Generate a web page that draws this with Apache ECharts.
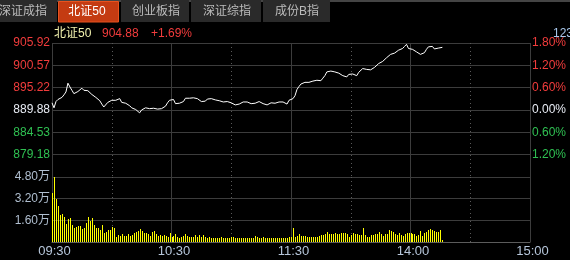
<!DOCTYPE html>
<html><head><meta charset="utf-8">
<script src="https://cdn.jsdelivr.net/npm/echarts@6/dist/echarts.min.js"></script>
<style>html,body{margin:0;padding:0;background:#000;overflow:hidden;}#c{width:570px;height:260px;}</style>
</head><body><div id="c"></div>
<script>
const baseClose = 889.88;
const tabNames = ['深证成指','北证50','创业板指','深证综指','成份B指'];
const indexName = '北证50';
const lastPrice = '904.88';
const lastChange = '+1.69%';
const cornerText = '1234';
const priceTicks = ['905.92','900.57','895.22','889.88','884.53','879.18'];
const pctTicks = ['1.80%','1.20%','0.60%','0.00%','0.60%','1.20%'];
const volTicks = ['4.80万','3.20万','1.60万'];
const timeTicks = ['09:30','10:30','11:30','14:00','15:00'];

const prices = [
891.6,890.4,891.9,892.4,892.7,892.9,893.5,894.2,896.3,895.4,
894.6,893.8,894.0,894.3,894.7,895.1,894.6,894.3,894.5,894.1,
893.6,893.3,892.9,892.5,892.1,891.3,890.6,890.6,891.7,892.1,
892.2,892.1,892.2,892.3,892.6,891.7,891.6,891.5,891.3,890.9,
890.4,890.1,890.0,889.6,889.2,889.9,890.3,890.4,890.3,890.2,
890.2,890.3,890.2,890.1,890.0,890.2,890.3,890.8,891.6,892.2,
892.5,892.4,891.4,891.5,891.5,891.8,891.9,892.7,892.6,892.7,
892.7,892.8,892.6,892.6,892.3,891.9,891.7,892.0,892.5,892.9,
892.6,892.4,892.3,892.2,892.1,892.0,891.8,891.9,891.9,891.7,
891.6,891.3,891.1,891.1,891.3,891.6,891.8,891.8,891.8,891.7,
891.4,891.1,891.5,891.8,891.9,891.5,891.4,891.2,891.1,891.2,
891.6,891.8,891.5,891.7,891.8,891.6,891.8,891.9,891.3,892.2,
892.4,892.6,893.3,894.8,895.5,896.1,896.4,896.5,896.5,896.5,
896.5,896.8,897.1,897.0,896.9,896.9,897.5,898.1,899.0,899.3,
899.2,899.1,899.0,898.9,898.7,898.5,898.1,897.8,897.8,898.4,
898.5,898.5,898.4,898.1,898.9,899.3,899.8,900.0,899.6,899.5,
899.5,899.6,900.1,900.5,901.0,901.2,901.5,901.9,902.4,902.7,
903.2,903.4,903.5,903.7,904.2,904.4,904.6,905.1,905.6,904.6,
904.7,904.4,904.2,903.8,903.4,903.2,903.4,903.6,904.4,905.0,
905.2,905.1,904.5,904.5,904.7,904.9,904.88
];

const volumes = [
3.64,4.78,3.18,2.66,1.99,2.07,1.85,1.33,1.70,1.77,
1.26,1.03,1.10,1.18,1.18,0.96,1.03,1.40,1.85,1.55,
1.77,1.26,1.03,1.03,0.89,1.26,0.66,0.74,0.89,0.89,
1.10,1.03,0.37,0.52,0.44,0.59,0.44,0.44,0.59,0.44,
0.52,0.66,0.74,0.81,0.96,0.81,0.66,0.66,0.59,0.44,
0.74,0.81,0.59,0.44,0.52,0.44,0.52,0.44,0.37,0.66,
0.37,0.44,0.59,0.37,0.30,0.37,0.44,0.59,0.44,0.37,
0.37,0.37,0.52,0.37,0.52,0.37,0.52,0.37,0.30,0.37,
0.30,0.30,0.30,0.26,0.30,0.37,0.26,0.30,0.30,0.26,
0.37,0.37,0.30,0.26,0.30,0.30,0.26,0.30,0.30,0.32,
0.32,0.27,0.47,0.39,0.32,0.32,0.39,0.27,0.32,0.32,
0.32,0.32,0.32,0.27,0.27,0.32,0.27,0.27,0.32,0.39,
0.39,1.06,0.39,0.47,0.59,0.44,0.44,0.44,0.39,0.39,
0.39,0.39,0.34,0.39,0.44,0.52,0.52,0.59,0.76,0.59,
0.59,0.59,0.66,0.59,0.59,0.66,0.66,0.66,0.59,0.39,
0.52,0.66,0.59,0.59,0.52,0.52,1.06,0.52,0.39,0.39,
0.52,0.52,0.59,0.59,0.76,0.59,0.44,0.59,0.59,0.89,
0.81,0.76,0.59,0.52,0.66,0.52,0.44,0.59,0.66,0.64,
0.66,0.59,0.59,0.44,0.52,0.81,0.44,0.66,0.74,0.89,
0.96,0.85,0.81,0.74,0.74,0.89,0.15
];

function fmt(t){const h=Math.floor(t/60),m=t%60;return (h<10?'0':'')+h+':'+(m<10?'0':'')+m;}
const times=[];
for(let m=0;m<=120;m++) times.push(fmt(570+m));
for(let m=1;m<=120;m++) times.push(fmt(780+m));

const FONT='"Liberation Sans","Noto Sans CJK SC",sans-serif';
const UP='#f23c3c', DOWN='#2fc052', FLAT='#e8ecf4';
const GRID='#3c3c3c';
const VOL='#ffff00';
function pctColor(v){v=parseFloat(v);if(v>0.001)return UP;if(v<-0.001)return DOWN;return FLAT;}
function pctIndex(v){return Math.round((1.8-parseFloat(v))/0.6);}

const chart=echarts.init(document.getElementById('c'),null,{renderer:'canvas'});
const tabs=[[0,57],[58,119],[121,189],[191,261],[263,330]];
const tabCenters=[23,87,156,227,297];
const graphic=[{type:'rect',shape:{x:0,y:0,width:570,height:2},style:{fill:'#444'},z:10}];
tabs.forEach((t,i)=>{
  const active=tabNames[i]===indexName;
  graphic.push({type:'rect',shape:{x:t[0]+(active?0.5:0),y:active?1.5:0,width:t[1]-t[0]-(active?1:0),height:active?20.5:22},
    style:active?{fill:'#c43b12',stroke:'#e8521e',lineWidth:1}:{fill:'#2a2a2a'},z:11});
  graphic.push({type:'text',style:{text:tabNames[i],x:tabCenters[i],y:12,fill:active?'#ffffff':'#bcbcbc',font:'12px '+FONT,textAlign:'center',textVerticalAlign:'middle',verticalAlign:'middle'},z:12});
});
graphic.push({type:'text',style:{text:indexName,x:54,y:33.5,fill:'#f2f2ae',font:'12px '+FONT,textAlign:'left',verticalAlign:'middle',textVerticalAlign:'middle'},z:12});
graphic.push({type:'text',style:{text:lastPrice,x:102,y:33.5,fill:UP,font:'12px '+FONT,textAlign:'left',verticalAlign:'middle',textVerticalAlign:'middle'},z:12});
graphic.push({type:'text',style:{text:lastChange,x:151,y:33.5,fill:UP,font:'12px '+FONT,textAlign:'left',verticalAlign:'middle',textVerticalAlign:'middle'},z:12});
graphic.push({type:'text',style:{text:cornerText,x:553,y:33.5,fill:'#a8c8ec',font:'12px '+FONT,textAlign:'left',verticalAlign:'middle',textVerticalAlign:'middle'},z:12});

const solidSplit={show:true,interval:(i)=>i%60===0,lineStyle:{color:GRID,width:1}};
const dotSplit={show:true,interval:(i)=>i%60===30,lineStyle:{color:'#5a5a5a',width:1,type:[1,3]}};
const hiddenCat=(g,split)=>({gridIndex:g,type:'category',data:times,boundaryGap:false,axisLine:{show:false},axisTick:{show:false},axisLabel:{show:false},splitLine:split});

function renderVolBar(params, api){
  const top=api.coord([api.value(0),api.value(1)]);
  const base=api.coord([api.value(0),0]);
  const x=Math.round(top[0]);
  const y=Math.round(top[1]);
  const yb=Math.round(base[1]);
  return {type:'rect',silent:true,shape:{x:x,y:y,width:1,height:Math.max(1,yb-y)},style:{fill:VOL,stroke:null,lineWidth:0,opacity:1}};
}

const option={
  backgroundColor:'#000',
  animation:false,
  graphic:graphic,
  grid:[{left:52,right:40,top:43,height:134},{left:52,right:40,top:177,height:65}],
  xAxis:[
    hiddenCat(0,solidSplit),
    hiddenCat(0,dotSplit),
    {gridIndex:1,type:'category',data:times,boundaryGap:false,
      axisLine:{show:true,lineStyle:{color:'#5c5c5c'}},axisTick:{show:false},
      axisLabel:{show:true,interval:(i,v)=>timeTicks.includes(v),color:'#b6c6da',fontSize:13,fontFamily:FONT,margin:3,padding:[0,0,0,5]},
      splitLine:solidSplit},
    hiddenCat(1,dotSplit)
  ],
  yAxis:[
    {gridIndex:0,type:'value',min:873.84,max:905.92,show:false,splitLine:{show:false}},
    {gridIndex:0,type:'value',position:'left',min:-1.8,max:1.8,interval:0.6,
      axisLine:{show:false},axisTick:{show:false},
      splitLine:{show:true,lineStyle:{color:GRID,width:1}},
      axisLabel:{formatter:(v)=>priceTicks[pctIndex(v)]||'',color:(v)=>pctColor(v),fontSize:12,fontFamily:FONT,margin:2,verticalAlign:'middle',padding:[7,0,0,0]}},
    {gridIndex:0,type:'value',position:'right',min:-1.8,max:1.8,interval:0.6,
      axisLine:{show:false},axisTick:{show:false},splitLine:{show:false},
      axisLabel:{formatter:(v)=>pctTicks[pctIndex(v)]||'',color:(v)=>pctColor(v),fontSize:12,fontFamily:FONT,margin:2,verticalAlign:'middle',padding:[7,0,0,0]}},
    {gridIndex:1,type:'value',position:'left',min:0,max:4.8,interval:1.6,
      axisLine:{show:false},axisTick:{show:false},
      splitLine:{show:true,lineStyle:{color:GRID,width:1}},
      axisLabel:{formatter:(v)=>volTicks[Math.round((4.8-parseFloat(v))/1.6)]||'',color:'#b0bfd0',fontSize:12,fontFamily:FONT,margin:2,verticalAlign:'middle',padding:[7,0,0,0]}}
  ],
  series:[
    {type:'line',xAxisIndex:0,yAxisIndex:0,data:prices,symbol:'none',silent:true,lineStyle:{color:'#ffffff',width:1},z:5},
    {type:'custom',xAxisIndex:2,yAxisIndex:3,data:volumes.map((v,i)=>[i,v]),encode:{x:0,y:1},renderItem:renderVolBar,silent:true,itemStyle:{color:VOL},emphasis:{disabled:true},z:5}
  ]
};
chart.setOption(option);
</script></body></html>
